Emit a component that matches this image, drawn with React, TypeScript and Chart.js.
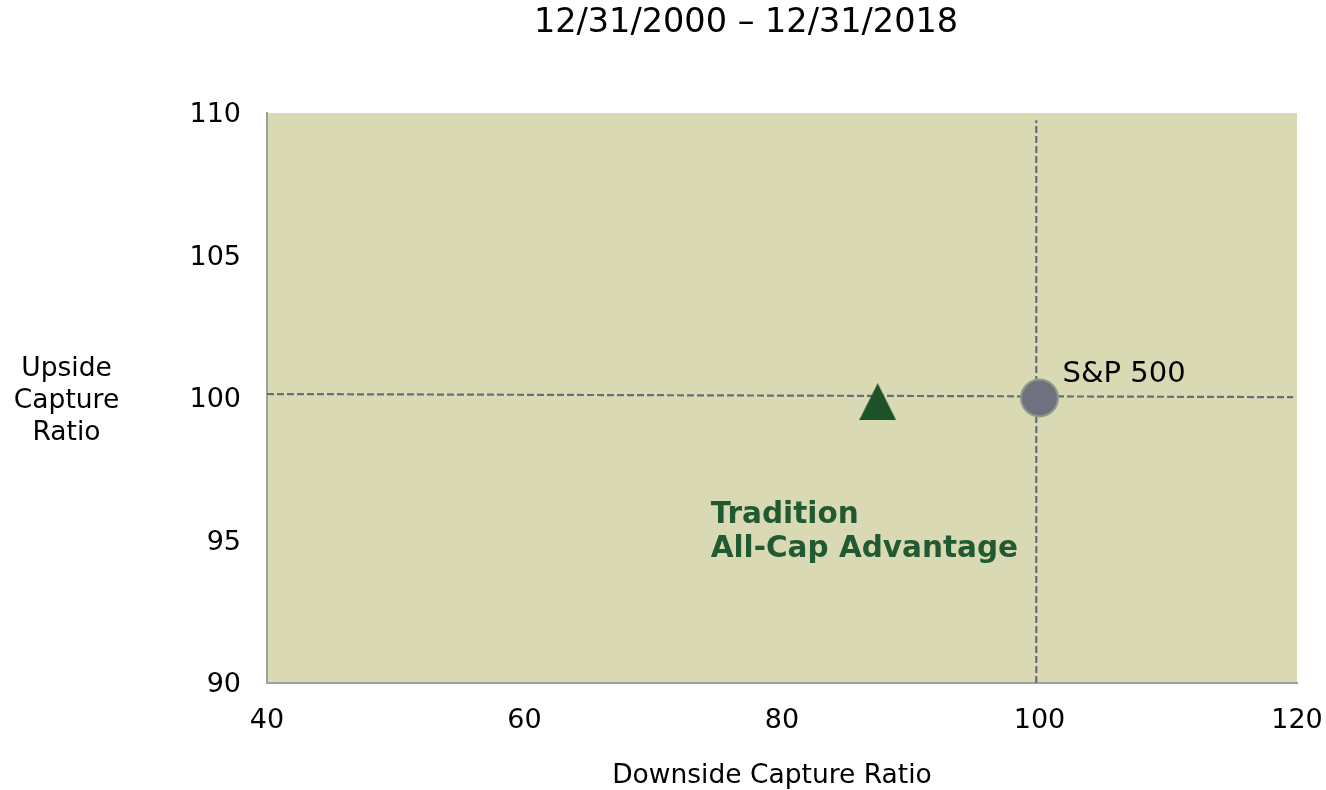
import React, { useEffect, useRef } from "react";
import { Chart, registerables } from "chart.js";

Chart.register(...registerables);

// ---- data ----
const TITLE = "12/31/2000 – 12/31/2018";
const X_TITLE = "Downside Capture Ratio";
const Y_TITLE_LINES = ["Upside", "Capture", "Ratio"];
const X_TICKS = [40, 60, 80, 100, 120];
const Y_TICKS = [90, 95, 100, 105, 110];
const SERIES_NAMES = ["Tradition All-Cap Advantage", "S&P 500"];
const FUND_LABEL_LINES = ["Tradition", "All-Cap Advantage"];
const DOWNSIDE = [87.43, 100.0];
const UPSIDE = [99.87, 100.0];
const H_REF_X = [40, 119.7];
const H_REF_Y = [100.14, 100.03];
const V_REF_X = [99.75, 99.75];
const V_REF_Y = [90, 109.75];

const FONT = "'DejaVu Sans', Verdana, sans-serif";
const BG = "rgb(217,218,180)";
const DASH = "#6a6c7a";
const GREEN = "#1d5229";
const TEXT_GREEN = "#215a32";

function makeTriangle(w: number, h: number, color: string) {
  const c = document.createElement("canvas");
  c.width = w;
  c.height = h;
  const ctx = c.getContext("2d")!;
  ctx.fillStyle = color;
  ctx.beginPath();
  ctx.moveTo(w / 2, 0);
  ctx.lineTo(w, h);
  ctx.lineTo(0, h);
  ctx.closePath();
  ctx.fill();
  return c;
}

export default function App() {
  const ref = useRef<HTMLCanvasElement | null>(null);

  useEffect(() => {
    document.body.style.margin = "0";
    const canvas = ref.current;
    if (!canvas) return;
    const tri = makeTriangle(37, 37, GREEN);

    const bgPlugin = {
      id: "bgPlugin",
      beforeDraw(chart: any) {
        const { ctx, chartArea } = chart;
        ctx.save();
        ctx.fillStyle = BG;
        ctx.fillRect(chartArea.left, chartArea.top, chartArea.right - chartArea.left, chartArea.bottom - chartArea.top);
        ctx.restore();
      },
    };

    const textPlugin = {
      id: "textPlugin",
      afterDraw(chart: any) {
        const { ctx } = chart;
        const xs = chart.scales.x;
        const ys = chart.scales.y;
        ctx.save();
        ctx.fillStyle = "#000";
        ctx.textBaseline = "alphabetic";
        // title
        ctx.font = `33.5px ${FONT}`;
        ctx.textAlign = "center";
        ctx.fillText(TITLE, 746, 32);
        // y title
        ctx.font = `26.5px ${FONT}`;
        Y_TITLE_LINES.forEach((l, i) => ctx.fillText(l, 66.5, 376 + i * 32));
        // x title
        ctx.fillText(X_TITLE, 772, 783);
        // S&P label
        const px = xs.getPixelForValue(DOWNSIDE[1]);
        const py = ys.getPixelForValue(UPSIDE[1]);
        ctx.font = `29px ${FONT}`;
        ctx.textAlign = "left";
        ctx.fillText(SERIES_NAMES[1], px + 23, py - 16);
        // fund label
        const fx = xs.getPixelForValue(DOWNSIDE[0]);
        const fy = ys.getPixelForValue(UPSIDE[0]);
        ctx.font = `bold 29.5px ${FONT}`;
        ctx.fillStyle = TEXT_GREEN;
        FUND_LABEL_LINES.forEach((l, i) => ctx.fillText(l, fx - 167, fy + 121 + i * 34));
        ctx.restore();
      },
    };

    const chart = new Chart(canvas, {
      type: "scatter",
      data: {
        datasets: [
          {
            label: SERIES_NAMES[0],
            data: [{ x: DOWNSIDE[0], y: UPSIDE[0] }],
            pointStyle: tri as any,
            pointRadius: 19,
          },
          {
            label: SERIES_NAMES[1],
            data: [{ x: DOWNSIDE[1], y: UPSIDE[1] }],
            pointStyle: "circle",
            pointRadius: 18.5,
            backgroundColor: "#6f717f",
            borderColor: "#8d9d8c",
            borderWidth: 2,
          },
          {
            label: "h",
            data: H_REF_X.map((x, i) => ({ x, y: H_REF_Y[i] })),
            showLine: true,
            pointRadius: 0,
            borderColor: DASH,
            borderWidth: 2.2,
            borderDash: [7, 3],
          },
          {
            label: "v",
            data: V_REF_X.map((x, i) => ({ x, y: V_REF_Y[i] })),
            showLine: true,
            pointRadius: 0,
            borderColor: DASH,
            borderWidth: 2.2,
            borderDash: [7, 3],
          },
        ],
      },
      options: {
        animation: false,
        responsive: true,
        maintainAspectRatio: false,
        layout: { padding: { top: 113, right: 29, left: 0, bottom: 0 } },
        plugins: {
          legend: { display: false },
          tooltip: { enabled: false },
          title: { display: false },
        },
        scales: {
          x: {
            type: "linear",
            min: X_TICKS[0],
            max: X_TICKS[X_TICKS.length - 1],
            afterBuildTicks: (s: any) => {
              s.ticks = X_TICKS.map((v) => ({ value: v }));
            },
            afterFit: (s: any) => {
              s.height = 790 - 683;
              s.paddingLeft = 0;
              s.paddingRight = 0;
            },
            grid: { display: false, drawTicks: false },
            border: { display: true, color: "#a0a0a0", width: 2 },
            ticks: { font: { family: FONT, size: 27 }, color: "#000", padding: 22, maxRotation: 0 },
          },
          y: {
            type: "linear",
            min: Y_TICKS[0],
            max: Y_TICKS[Y_TICKS.length - 1],
            afterBuildTicks: (s: any) => {
              s.ticks = Y_TICKS.map((v) => ({ value: v }));
            },
            afterFit: (s: any) => {
              s.width = 267;
              s.paddingTop = 0;
              s.paddingBottom = 0;
            },
            grid: { display: false, drawTicks: false },
            border: { display: true, color: "#a0a0a0", width: 2 },
            ticks: { font: { family: FONT, size: 27 }, color: "#000", padding: 26, labelOffset: 2 },
          },
        },
      },
      plugins: [bgPlugin, textPlugin],
    });
    return () => chart.destroy();
  }, []);

  return (
    <div style={{ width: 1326, height: 790, position: "relative" }}>
      <canvas ref={ref} />
    </div>
  );
}
